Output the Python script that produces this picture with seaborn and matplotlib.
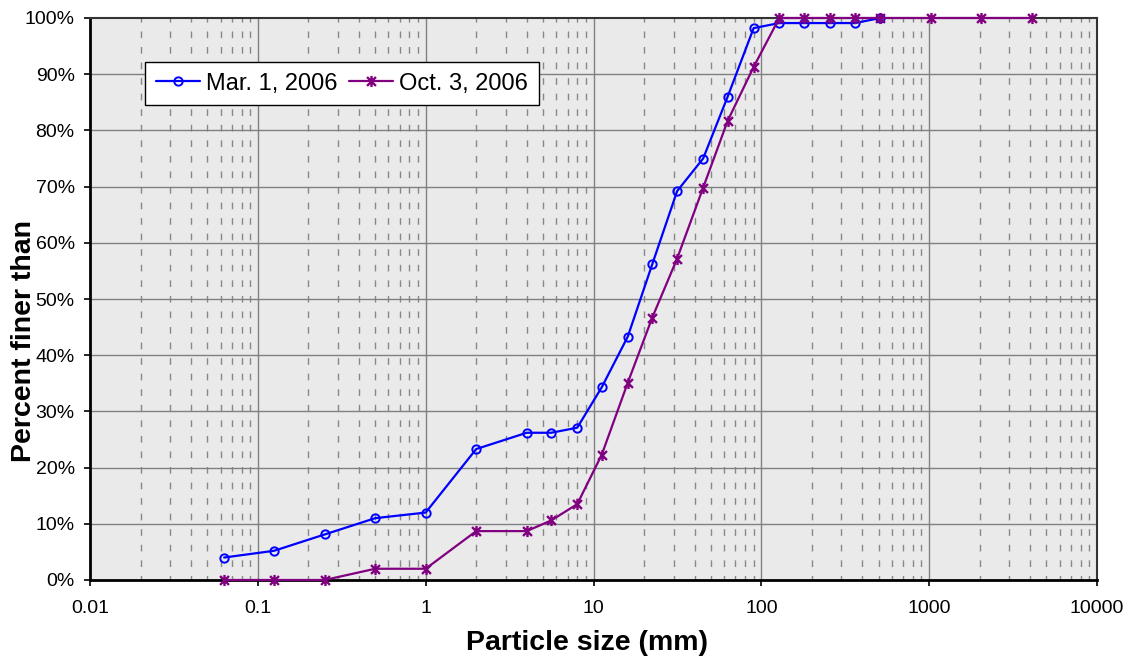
import numpy as np
import pandas as pd
import matplotlib
matplotlib.use("Agg")
import matplotlib.pyplot as plt
import seaborn as sns
from matplotlib.path import Path
from matplotlib.ticker import FixedLocator, FuncFormatter, NullFormatter

# ---- data ----
sizes_mar = [0.063, 0.125, 0.25, 0.5, 1, 2, 4, 5.6, 8, 11.2, 16, 22.4, 31.5, 45, 63, 90,
             128, 180, 256, 362, 512]
finer_mar = [4.0, 5.2, 8.1, 11.0, 12.0, 23.3, 26.2, 26.2, 27.1, 34.3, 43.3, 56.2, 69.2,
             75.0, 86.0, 98.2, 99.1, 99.1, 99.1, 99.1, 100.0]
sizes_oct = [0.063, 0.125, 0.25, 0.5, 1, 2, 4, 5.6, 8, 11.2, 16, 22.4, 31.5, 45, 63, 90,
             128, 180, 256, 362, 512, 1024, 2048, 4096]
finer_oct = [0.0, 0.0, 0.0, 2.0, 2.0, 8.7, 8.7, 10.6, 13.5, 22.3, 35.1, 46.7, 57.2, 69.8,
             81.7, 91.3, 100, 100, 100, 100, 100, 100, 100, 100]
label_mar = "Mar. 1, 2006"
label_oct = "Oct. 3, 2006"
x_ticks = [0.01, 0.1, 1, 10, 100, 1000, 10000]
x_ticklabels = ["0.01", "0.1", "1", "10", "100", "1000", "10000"]
y_ticks = list(range(0, 101, 10))
xlabel = "Particle size (mm)"
ylabel = "Percent finer than"

sns.set_theme(style="white")
plt.rcParams['font.family'] = ['Liberation Sans', 'DejaVu Sans']
plt.rcParams['text.color'] = 'black'
plt.rcParams['axes.labelcolor'] = 'black'
plt.rcParams['xtick.color'] = 'black'
plt.rcParams['ytick.color'] = 'black'
plt.rcParams['lines.scale_dashes'] = False

fig = plt.figure(figsize=(11.26, 6.69), dpi=100)
ax = fig.add_axes([90/1126, 1-580/669, (1097-90)/1126, (580-18)/669])
ax.set_facecolor("#eaeaea")

# asterisk marker: X plus vertical bar
star = Path([(-1, -1), (1, 1), (-1, 1), (1, -1), (0, -1.25), (0, 1.25)],
            [Path.MOVETO, Path.LINETO, Path.MOVETO, Path.LINETO, Path.MOVETO, Path.LINETO])

df_mar = pd.DataFrame({"size": sizes_mar, "finer": finer_mar})
df_oct = pd.DataFrame({"size": sizes_oct, "finer": finer_oct})

sns.lineplot(data=df_mar, x="size", y="finer", ax=ax, color="#0000ff", lw=1.6,
             marker="o", markersize=6, markerfacecolor="none", markeredgecolor="#0000ff",
             markeredgewidth=1.4, label=label_mar, zorder=4, clip_on=False)
sns.lineplot(data=df_oct, x="size", y="finer", ax=ax, color="#800080", lw=1.6,
             marker=star, markersize=8, markeredgecolor="#800080", markeredgewidth=1.7,
             label=label_oct, zorder=5, clip_on=False)

ax.set_xscale("log")
ax.set_xlim(0.01, 10000)
ax.set_ylim(0, 100)

# grid lines
for xv in x_ticks[1:-1]:
    ax.axvline(xv, color="#808080", lw=1.0, zorder=1)
minors = [m * 10.0**e for e in range(-2, 4) for m in range(2, 10)]
for xv in minors:
    ax.axvline(xv, color="#888888", lw=1.0, ls=(1.5, (4.8, 6.4)), zorder=1)
for yv in y_ticks[1:-1]:
    ax.axhline(yv, color="#808080", lw=1.0, zorder=1)

ax.xaxis.set_major_locator(FixedLocator(x_ticks))
ax.xaxis.set_minor_locator(FixedLocator([]))
ax.xaxis.set_minor_formatter(NullFormatter())
ax.set_xticks(x_ticks)
ax.set_xticklabels(x_ticklabels)
ax.set_yticks(y_ticks)
ax.yaxis.set_major_formatter(FuncFormatter(lambda v, p: f"{int(v)}%"))
ax.tick_params(axis="both", which="major", direction="out", length=4.5, width=1.2,
               color="black", labelsize=14, left=True, bottom=True)
ax.tick_params(axis="x", pad=10)
ax.tick_params(axis="y", pad=6.5)

for side in ["left", "bottom"]:
    ax.spines[side].set_color("black")
    ax.spines[side].set_linewidth(2.0)
for side in ["top", "right"]:
    ax.spines[side].set_color("#333333")
    ax.spines[side].set_linewidth(1.5)

ax.set_xlabel(xlabel, fontsize=20.5, fontweight="bold")
ax.set_ylabel(ylabel, fontsize=20.5, fontweight="bold")
ax.xaxis.set_label_coords((587-90)/1007, (580-630)/562)
ax.yaxis.set_label_coords((11-90)/1007, (580-341)/562)
ax.yaxis.label.set_va("top")

leg = ax.legend(loc="upper left", bbox_to_anchor=((145-90)/1007, (580-62)/562), ncol=2,
                fontsize=17, frameon=True, fancybox=False, edgecolor="black", framealpha=1,
                handlelength=1.9, columnspacing=0.45, handletextpad=0.25,
                borderpad=0.45, borderaxespad=0)
leg.get_frame().set_linewidth(1.0)

fig.savefig("out.png", dpi=100, facecolor="white")
